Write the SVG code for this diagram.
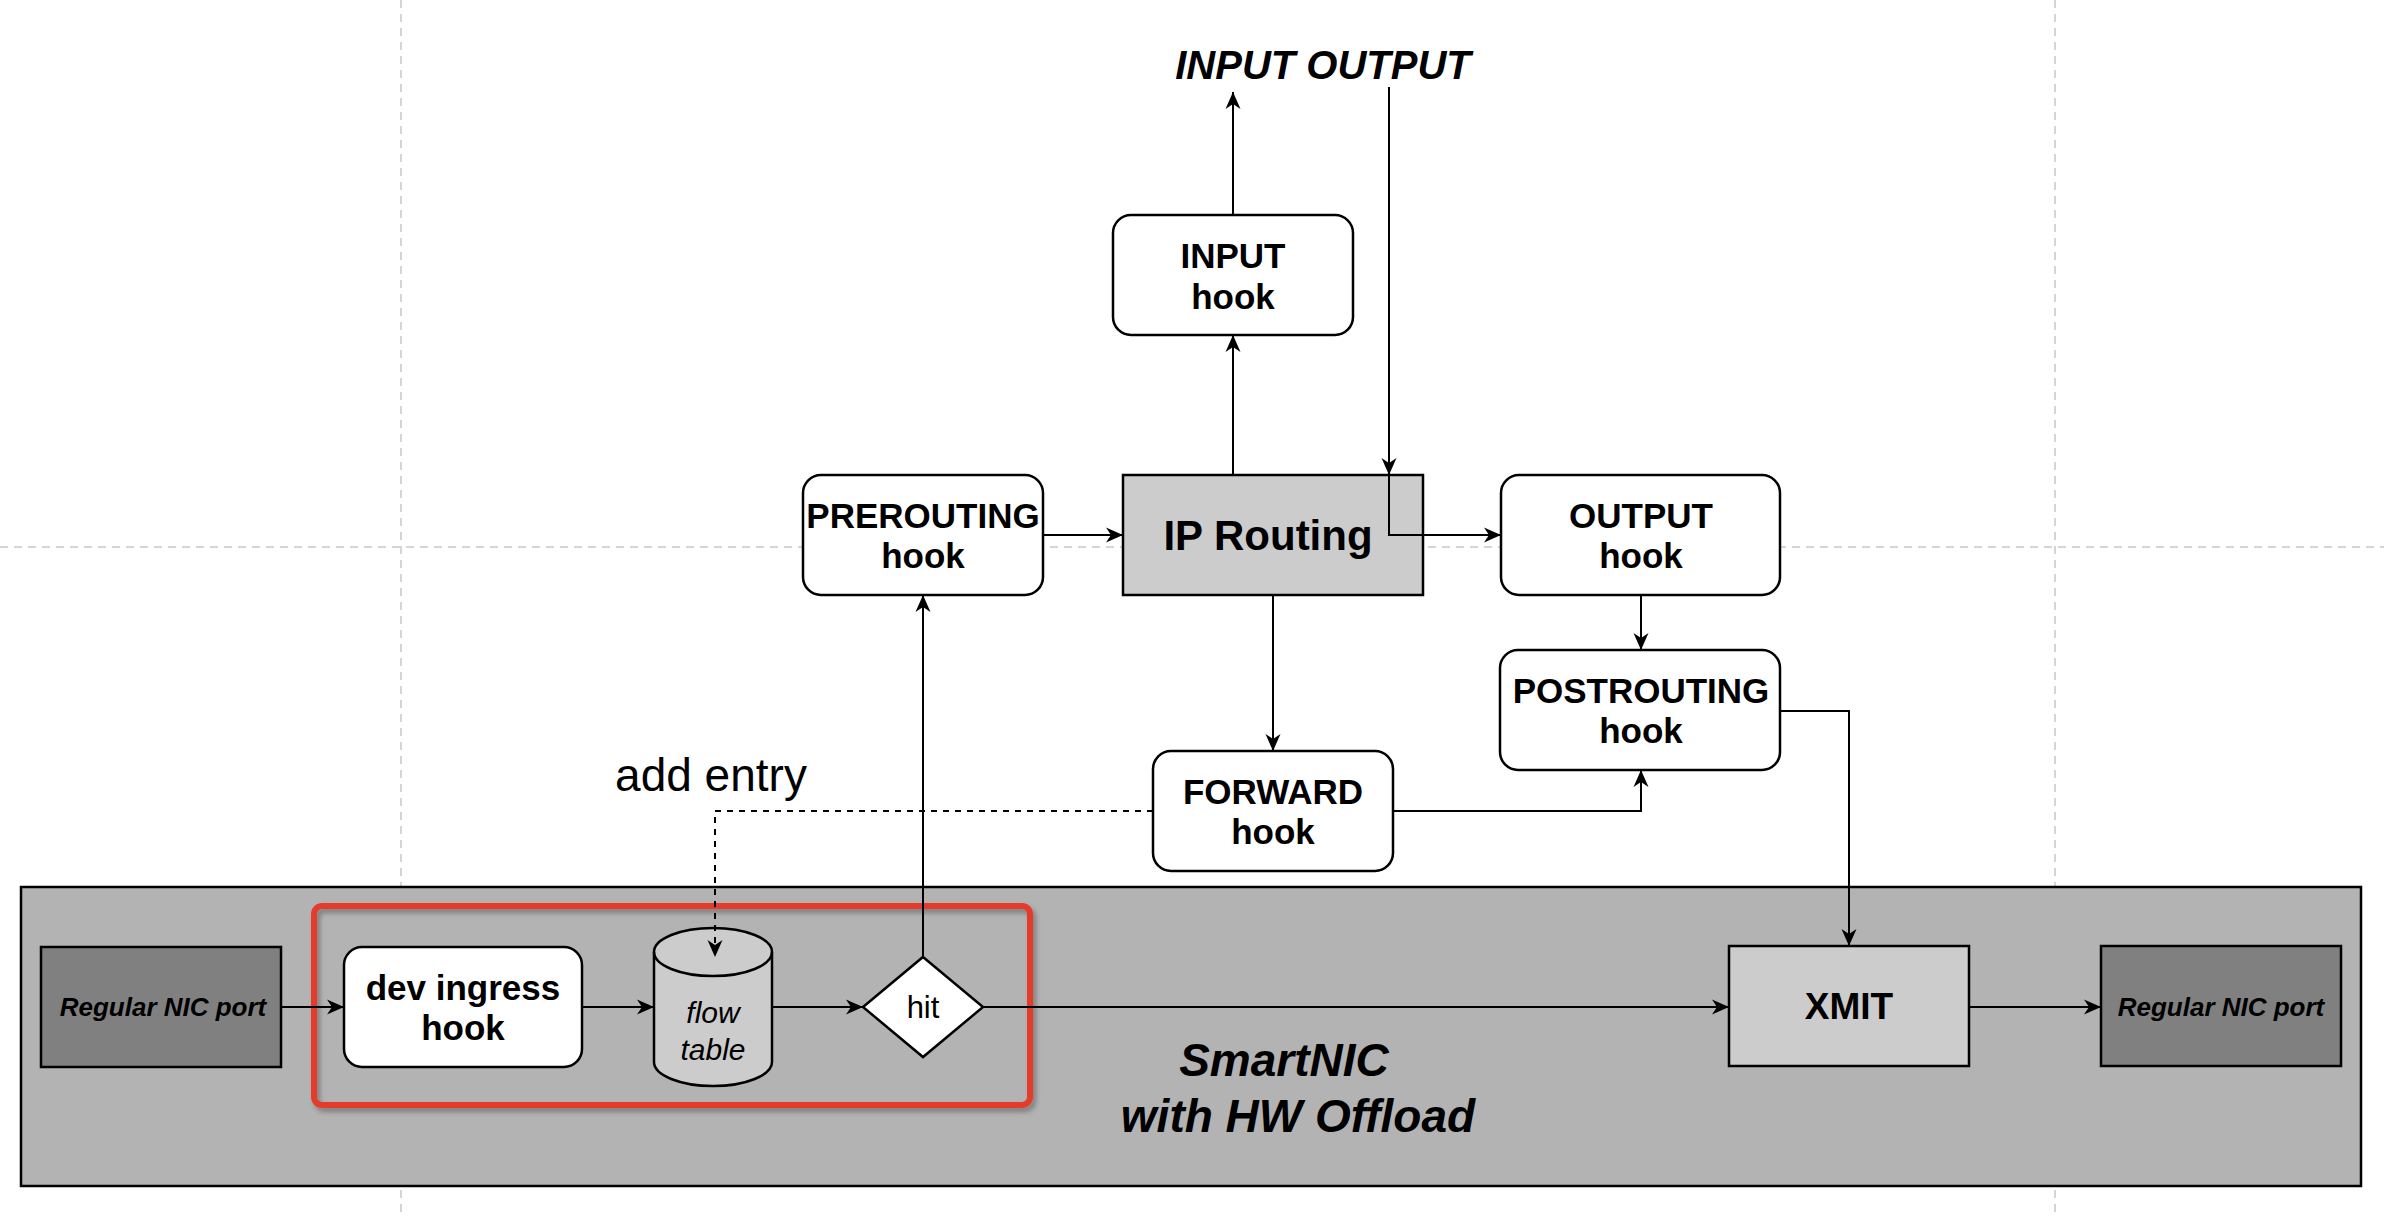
<svg xmlns="http://www.w3.org/2000/svg" width="2384" height="1216" viewBox="0 0 2384 1216">
<defs>
<marker id="arr" markerUnits="userSpaceOnUse" markerWidth="20" markerHeight="18" refX="17" refY="8" orient="auto">
<path d="M0,0.5 L17,8 L0,15.5 L5,8 Z" fill="#000"/>
</marker>
<filter id="sh" x="-5%" y="-5%" width="110%" height="115%">
<feDropShadow dx="3" dy="4" stdDeviation="2.5" flood-color="#000" flood-opacity="0.3"/>
</filter>
</defs>
<style>
.grid{stroke:#c8c8c8;stroke-width:1.5;stroke-dasharray:8 6;fill:none}
.hook{fill:#fff;stroke:#000;stroke-width:2.5}
.box{stroke:#000;stroke-width:2.5}
.b{font-family:"Liberation Sans",Arial,sans-serif;font-weight:bold;text-anchor:middle;fill:#000}
.bi{font-family:"Liberation Sans",Arial,sans-serif;font-weight:bold;font-style:italic;text-anchor:middle;fill:#000}
.r{font-family:"Liberation Sans",Arial,sans-serif;text-anchor:middle;fill:#000}
.ri{font-family:"Liberation Sans",Arial,sans-serif;font-style:italic;text-anchor:middle;fill:#000}
.c{fill:none;stroke:#000;stroke-width:2;marker-end:url(#arr)}
.d{fill:none;stroke:#000;stroke-width:2;stroke-dasharray:6 6;marker-end:url(#arr)}
</style>
<rect width="2384" height="1216" fill="#fff"/>
<g id="grid">
<line class="grid" x1="401" y1="0" x2="401" y2="1216"/>
<line class="grid" x1="2055" y1="0" x2="2055" y2="1216"/>
<line class="grid" x1="0" y1="547" x2="2384" y2="547"/>
</g>
<g id="smartnic">
<rect x="21" y="887" width="2340" height="299" fill="#b3b3b3" stroke="#000" stroke-width="2.5"/>
<text class="bi" x="1284" y="1076" font-size="46">SmartNIC</text>
<text class="bi" x="1298" y="1132" font-size="46">with HW Offload</text>
</g>
<g id="highlight">
<rect x="314" y="906" width="716" height="199" rx="8" fill="none" stroke="#e53a2b" stroke-width="6" filter="url(#sh)"/>
</g>
<g id="input-output-label">
<text class="bi" x="1323" y="79" font-size="40">INPUT OUTPUT</text>
</g>
<g id="input-hook">
<rect class="hook" x="1113" y="215" width="240" height="120" rx="18"/>
<text class="b" x="1233" y="268" font-size="35">INPUT</text>
<text class="b" x="1233" y="309" font-size="35">hook</text>
</g>
<g id="prerouting-hook">
<rect class="hook" x="803" y="475" width="240" height="120" rx="18"/>
<text class="b" x="923" y="528" font-size="35">PREROUTING</text>
<text class="b" x="923" y="568" font-size="35">hook</text>
</g>
<g id="ip-routing">
<rect class="box" x="1123" y="475" width="300" height="120" fill="#cccccc"/>
<text class="b" x="1268" y="550" font-size="42">IP Routing</text>
</g>
<g id="output-hook">
<rect class="hook" x="1501" y="475" width="279" height="120" rx="18"/>
<text class="b" x="1641" y="528" font-size="35">OUTPUT</text>
<text class="b" x="1641" y="568" font-size="35">hook</text>
</g>
<g id="postrouting-hook">
<rect class="hook" x="1500" y="650" width="280" height="120" rx="18"/>
<text class="b" x="1641" y="703" font-size="35">POSTROUTING</text>
<text class="b" x="1641" y="743" font-size="35">hook</text>
</g>
<g id="forward-hook">
<rect class="hook" x="1153" y="751" width="240" height="120" rx="18"/>
<text class="b" x="1273" y="804" font-size="35">FORWARD</text>
<text class="b" x="1273" y="844" font-size="35">hook</text>
</g>
<g id="add-entry-label">
<text class="r" x="711" y="791" font-size="46">add entry</text>
</g>
<g id="nic-port-left">
<rect class="box" x="41" y="947" width="240" height="120" fill="#808080"/>
<text class="bi" x="163" y="1016" font-size="26">Regular NIC port</text>
</g>
<g id="dev-ingress-hook">
<rect class="hook" x="344" y="947" width="238" height="120" rx="18"/>
<text class="b" x="463" y="1000" font-size="35">dev ingress</text>
<text class="b" x="463" y="1040" font-size="35">hook</text>
</g>
<g id="flow-table">
<path d="M654,952 A59,24 0 0 1 772,952 V1062 A59,24 0 0 1 654,1062 Z" fill="#cccccc" stroke="#000" stroke-width="2.5"/>
<path d="M654,952 A59,24 0 0 0 772,952" fill="none" stroke="#000" stroke-width="2.5"/>
<text class="ri" x="713" y="1023" font-size="30">flow</text>
<text class="ri" x="713" y="1060" font-size="30">table</text>
</g>
<g id="hit">
<path d="M923,957 L983,1007 L923,1057 L863,1007 Z" fill="#fff" stroke="#000" stroke-width="2.5"/>
<text class="r" x="923" y="1018" font-size="31">hit</text>
</g>
<g id="xmit">
<rect class="box" x="1729" y="946" width="240" height="120" fill="#cccccc"/>
<text class="b" x="1849" y="1019" font-size="37">XMIT</text>
</g>
<g id="nic-port-right">
<rect class="box" x="2101" y="946" width="240" height="120" fill="#808080"/>
<text class="bi" x="2221" y="1016" font-size="26">Regular NIC port</text>
</g>
<g id="connectors">
<path class="c" d="M281,1007 H344"/>
<path class="c" d="M582,1007 H654"/>
<path class="c" d="M772,1007 H863"/>
<path class="c" d="M983,1007 H1729"/>
<path class="c" d="M1969,1007 H2101"/>
<path class="c" d="M923,957 V595"/>
<path class="c" d="M1043,535 H1123"/>
<path class="c" d="M1233,475 V335"/>
<path class="c" d="M1233,215 V92"/>
<path class="c" d="M1389,87 V475"/>
<path class="c" d="M1389,475 V535 H1501"/>
<path class="c" d="M1273,595 V751"/>
<path class="c" d="M1641,595 V650"/>
<path class="c" d="M1393,811 H1641 V770"/>
<path class="c" d="M1780,711 H1849 V946"/>
<path class="d" d="M1153,811 H715 V957"/>
</g>
</svg>
